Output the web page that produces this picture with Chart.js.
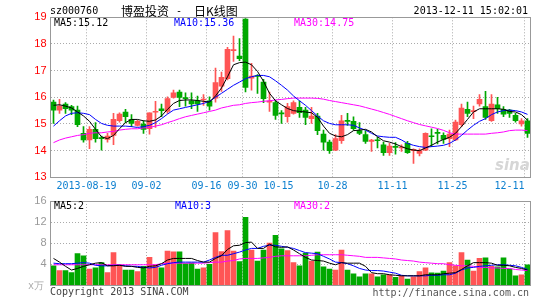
<!DOCTYPE html>
<html>
<head>
<meta charset="utf-8">
<title>博盈投资 日K线图</title>
<script src="https://cdn.jsdelivr.net/npm/chart.js@4.4.1/dist/chart.umd.min.js"></script>
<style>
  body { margin: 0; background: #fff; }
  #wrap { position: relative; width: 545px; height: 300px; overflow: hidden; background: #fff; }
  canvas { position: absolute; left: 0; }
  .txt { position: absolute; font: 10px/12px "DejaVu Sans Mono", monospace; white-space: pre; color: #000; }
  .cjk { font: 12px/14px "Noto Sans CJK SC", sans-serif; }
</style>
</head>
<body>
<div id="wrap">
  <canvas id="kChart" width="545" height="200" style="top:0"></canvas>
  <canvas id="volChart" width="545" height="110" style="top:190px"></canvas>
  <div class="txt" style="left:50px;top:5px">sz000760</div>
  <div class="txt cjk" style="left:121px;top:4px">博盈投资</div>
  <div class="txt" style="left:176px;top:5px">-</div>
  <div class="txt cjk" style="left:194px;top:4px">日K线图</div>
  <div class="txt" style="right:17px;top:5px">2013-12-11 15:02:01</div>
  <div class="txt" style="left:54px;top:17px">MA5:15.12</div>
  <div class="txt" style="left:174px;top:17px;color:#0000ff">MA10:15.36</div>
  <div class="txt" style="left:294px;top:17px;color:#ff00ff">MA30:14.75</div>
  <div class="txt" style="left:54px;top:200px">MA5:2</div>
  <div class="txt" style="left:175px;top:200px;color:#0000ff">MA10:3</div>
  <div class="txt" style="left:294px;top:200px;color:#ff00ff">MA30:2</div>
  <div class="txt" style="left:28px;top:280px;color:#aaa">x万</div>
  <div class="txt" style="left:50px;top:286px;color:#444">Copyright 2013 SINA.COM</div>
  <div class="txt" style="right:16px;top:287px;color:#555">http://finance.sina.com.cn</div>
  <div class="txt" style="left:495px;top:156px;font:italic bold 15px 'DejaVu Sans',sans-serif;color:#d6d6d6">sina</div>
</div>
<script>
// trading days shown on the chart
const dates = [
    '2013-08-09', '2013-08-12', '2013-08-13', '2013-08-14', '2013-08-15', '2013-08-16',
    '2013-08-19', '2013-08-20', '2013-08-21', '2013-08-22', '2013-08-23',
    '2013-08-26', '2013-08-27', '2013-08-28', '2013-08-29', '2013-08-30',
    '2013-09-02', '2013-09-03', '2013-09-04', '2013-09-05', '2013-09-06',
    '2013-09-09', '2013-09-10', '2013-09-11', '2013-09-12', '2013-09-13',
    '2013-09-16', '2013-09-17', '2013-09-18', '2013-09-23', '2013-09-24', '2013-09-25',
    '2013-09-30', '2013-10-08', '2013-10-09', '2013-10-10', '2013-10-11', '2013-10-14',
    '2013-10-15', '2013-10-16', '2013-10-17', '2013-10-18',
    '2013-10-21', '2013-10-22', '2013-10-23', '2013-10-24', '2013-10-25',
    '2013-10-28', '2013-10-29', '2013-10-30', '2013-10-31', '2013-11-01',
    '2013-11-04', '2013-11-05', '2013-11-06', '2013-11-07', '2013-11-08',
    '2013-11-11', '2013-11-12', '2013-11-13', '2013-11-14', '2013-11-15',
    '2013-11-18', '2013-11-19', '2013-11-20', '2013-11-21', '2013-11-22',
    '2013-11-25', '2013-11-26', '2013-11-27', '2013-11-28', '2013-11-29',
    '2013-12-02', '2013-12-03', '2013-12-04', '2013-12-05', '2013-12-06',
    '2013-12-09', '2013-12-10', '2013-12-11'
];

const tickDates = ['2013-08-19', '2013-09-02', '2013-09-16', '2013-09-30', '2013-10-15',
    '2013-10-28', '2013-11-11', '2013-11-25', '2013-12-11'];

const openPx = [
    15.82, 15.52, 15.75, 15.65, 15.52, 14.65, 14.40, 14.80, 14.47, 14.42,
    14.57, 15.12, 15.45, 15.17, 14.95, 15.00, 14.82, 15.44, 15.57, 15.47,
    16.00, 16.20, 15.97, 15.87, 15.87, 15.90, 15.87, 15.97, 16.42, 16.70,
    17.75, 17.55, 18.93, 16.72, 16.80, 16.57, 15.82, 15.80, 15.40, 15.27,
    15.40, 15.62, 15.52, 15.20, 15.30, 14.62, 14.32, 14.02, 14.37, 15.12,
    15.10, 14.75, 14.60, 14.35, 14.38, 14.22, 13.92, 14.13, 14.10, 14.27,
    14.00, 13.90, 14.02, 14.53, 14.66, 14.57, 14.45, 14.40, 14.97, 15.55,
    15.46, 15.75, 15.65, 15.12, 15.72, 15.55, 15.52, 15.32, 15.00, 15.12
];
const highPx = [
    15.90, 15.92, 15.80, 15.70, 15.67, 14.90, 14.90, 15.05, 14.55, 14.65,
    15.40, 15.42, 15.55, 15.35, 15.15, 15.12, 15.42, 15.85, 15.75, 16.02,
    16.27, 16.27, 16.17, 16.17, 16.05, 16.10, 16.02, 17.10, 16.95, 17.87,
    18.30, 18.20, 18.95, 17.27, 16.85, 16.67, 16.20, 15.90, 15.50, 15.77,
    15.87, 15.87, 15.62, 15.62, 15.40, 14.77, 14.40, 14.60, 15.32, 15.40,
    15.27, 15.05, 14.75, 14.42, 14.50, 14.32, 14.27, 14.30, 14.22, 14.35,
    14.07, 14.07, 14.67, 14.82, 14.80, 14.67, 14.77, 15.15, 15.75, 15.82,
    15.67, 16.10, 16.22, 16.10, 16.00, 15.65, 15.55, 15.40, 15.20, 15.20
];
const lowPx = [
    15.02, 15.40, 15.40, 15.35, 14.90, 14.32, 14.07, 14.32, 14.02, 14.32,
    14.22, 15.07, 15.05, 14.90, 14.92, 14.65, 14.62, 14.87, 15.27, 15.40,
    15.97, 15.65, 15.67, 15.57, 15.47, 15.70, 15.52, 15.82, 16.22, 16.65,
    17.35, 17.37, 16.20, 16.27, 16.15, 15.80, 15.47, 15.17, 15.02, 15.07,
    15.37, 15.25, 14.97, 15.02, 14.60, 14.02, 13.90, 14.00, 14.27, 14.95,
    14.77, 14.60, 14.27, 13.97, 14.10, 13.82, 13.82, 13.87, 13.97, 13.90,
    13.52, 13.80, 14.00, 14.15, 14.25, 14.27, 14.15, 14.37, 14.90, 15.27,
    15.20, 15.67, 15.17, 15.10, 15.40, 15.27, 15.25, 15.07, 14.92, 14.50
];
const closePx = [
    15.52, 15.67, 15.57, 15.52, 14.97, 14.40, 14.80, 14.45, 14.45, 14.55,
    15.17, 15.37, 15.27, 15.02, 15.10, 14.80, 15.42, 15.47, 15.50, 15.95,
    16.17, 16.00, 15.95, 15.75, 15.75, 15.92, 15.67, 16.55, 16.75, 17.80,
    17.77, 17.45, 16.37, 16.80, 16.78, 15.95, 15.85, 15.32, 15.38, 15.65,
    15.80, 15.42, 15.25, 15.30, 14.75, 14.32, 14.00, 14.45, 15.12, 15.10,
    14.82, 14.65, 14.35, 14.40, 14.37, 13.92, 14.17, 14.12, 14.12, 13.92,
    14.05, 14.00, 14.65, 14.52, 14.65, 14.42, 14.62, 15.07, 15.60, 15.40,
    15.47, 15.92, 15.25, 15.75, 15.57, 15.37, 15.40, 15.12, 15.12, 14.65
];

const ma5 = [
    15.70, 15.72, 15.67, 15.60, 15.45, 15.30, 15.10, 14.80, 14.52, 14.45,
    14.57, 14.82, 15.05, 15.17, 15.17, 15.12, 15.10, 15.15, 15.30, 15.55,
    15.77, 15.88, 15.90, 15.90, 15.88, 15.85, 15.82, 16.05, 16.35, 16.77,
    17.22, 17.30, 17.32, 17.22, 16.97, 16.60, 16.15, 15.87, 15.72, 15.58,
    15.50, 15.47, 15.45, 15.42, 15.25, 14.92, 14.65, 14.55, 14.52, 14.60,
    14.75, 14.77, 14.80, 14.70, 14.52, 14.37, 14.32, 14.25, 14.15, 14.07,
    14.02, 14.00, 14.10, 14.20, 14.32, 14.42, 14.50, 14.65, 14.90, 15.17,
    15.45, 15.57, 15.57, 15.57, 15.57, 15.55, 15.47, 15.45, 15.35, 15.14
];
const ma10 = [
    14.92, 15.12, 15.30, 15.40, 15.42, 15.40, 15.35, 15.17, 15.02, 14.95,
    14.92, 14.92, 14.92, 14.90, 14.87, 14.90, 14.95, 15.05, 15.20, 15.37,
    15.52, 15.57, 15.62, 15.67, 15.72, 15.77, 15.85, 16.00, 16.15, 16.30,
    16.45, 16.57, 16.70, 16.77, 16.82, 16.82, 16.77, 16.62, 16.45, 16.27,
    16.05, 15.87, 15.70, 15.50, 15.30, 15.12, 15.02, 14.97, 14.97, 14.97,
    14.95, 14.85, 14.77, 14.65, 14.55, 14.52, 14.50, 14.50, 14.40, 14.27,
    14.20, 14.15, 14.12, 14.15, 14.17, 14.20, 14.27, 14.40, 14.57, 14.77,
    14.95, 15.10, 15.20, 15.35, 15.45, 15.50, 15.52, 15.50, 15.45, 15.36
];
const ma30 = [
    14.30, 14.40, 14.47, 14.52, 14.57, 14.60, 14.65, 14.67, 14.67, 14.70,
    14.72, 14.77, 14.80, 14.82, 14.82, 14.85, 14.87, 14.92, 14.97, 15.05,
    15.12, 15.20, 15.27, 15.32, 15.37, 15.42, 15.47, 15.52, 15.60, 15.65,
    15.70, 15.72, 15.77, 15.80, 15.82, 15.85, 15.87, 15.90, 15.92, 15.95,
    15.97, 15.97, 15.97, 15.97, 15.96, 15.93, 15.88, 15.84, 15.80, 15.76,
    15.72, 15.68, 15.62, 15.56, 15.50, 15.43, 15.36, 15.28, 15.20, 15.12,
    15.05, 14.98, 14.93, 14.88, 14.83, 14.76, 14.67, 14.62, 14.62, 14.62,
    14.62, 14.62, 14.62, 14.65, 14.67, 14.70, 14.75, 14.77, 14.77, 14.75
];

// volume, in units of 10k shares
const volume = [
    3.7, 2.8, 2.8, 2.4, 6.0, 5.6, 3.1, 3.3, 4.3, 2.4,
    6.2, 3.9, 2.9, 2.9, 2.6, 3.6, 5.3, 3.9, 3.3, 6.5,
    6.35, 6.35, 4.1, 4.2, 3.1, 3.3, 4.0, 10.0, 6.4, 10.4,
    6.5, 4.5, 12.9, 6.7, 4.6, 6.7, 8.0, 9.5, 6.9, 6.6,
    4.3, 3.7, 6.1, 4.6, 6.3, 3.5, 3.1, 2.9, 6.7, 2.9,
    2.2, 1.6, 2.2, 2.2, 1.6, 2.0, 2.0, 1.5, 1.8, 1.2,
    1.6, 2.6, 3.3, 2.35, 2.3, 2.7, 4.3, 3.7, 6.2, 4.8,
    2.7, 5.1, 5.2, 3.6, 3.5, 5.2, 3.1, 1.8, 2.0, 3.9
];
const volMa5 = [
    5.1, 4.4, 3.6, 2.9, 3.2, 3.6, 3.9, 4.2, 4.3, 3.7,
    3.7, 3.8, 3.6, 3.6, 3.4, 3.3, 3.6, 3.7, 4.1, 4.8,
    5.1, 5.1, 5.1, 5.1, 4.7, 4.4, 4.4, 5.1, 5.6, 6.8,
    7.5, 7.6, 8.1, 8.2, 7.0, 7.0, 7.8, 7.3, 7.2, 7.3,
    6.7, 6.0, 5.3, 4.8, 4.7, 4.6, 4.2, 3.9, 4.3, 4.2,
    4.2, 4.2, 3.6, 2.4, 2.2, 2.2, 2.0, 1.9, 1.8, 1.8,
    1.8, 1.8, 2.0, 2.0, 2.0, 2.2, 2.3, 2.4, 3.0, 3.7,
    4.3, 4.3, 4.3, 4.2, 3.8, 3.8, 3.7, 3.4, 3.2, 2.9
];
const volMa10 = [
    4.2, 4.1, 4.1, 4.1, 4.2, 4.3, 4.2, 3.8, 3.7, 3.7,
    3.8, 3.8, 3.7, 3.6, 3.6, 3.4, 3.3, 3.4, 3.8, 4.1,
    4.3, 4.4, 4.4, 4.4, 4.4, 4.4, 4.8, 5.3, 5.7, 5.7,
    6.0, 6.3, 6.7, 7.0, 7.0, 7.4, 7.6, 7.6, 7.4, 7.2,
    7.0, 6.6, 6.2, 6.1, 6.0, 5.5, 5.0, 4.4, 4.3, 4.1,
    3.7, 3.2, 2.9, 2.8, 2.8, 2.7, 2.5, 2.3, 1.9, 1.8,
    1.8, 1.8, 1.8, 1.9, 1.9, 2.0, 2.0, 2.3, 2.9, 3.3,
    3.4, 3.6, 3.7, 3.8, 3.9, 3.9, 3.8, 3.7, 3.4, 3.0
];
const volMa30 = [
    3.9, 3.9, 3.9, 3.9, 3.9, 3.9, 3.9, 3.9, 3.9, 3.9,
    3.9, 3.9, 3.9, 3.9, 3.9, 3.9, 3.9, 3.9, 4.1, 4.2,
    4.2, 4.2, 4.2, 4.2, 4.2, 4.2, 4.3, 4.4, 4.4, 4.6,
    4.7, 5.0, 5.1, 5.1, 5.1, 5.2, 5.3, 5.5, 5.6, 5.6,
    5.6, 5.6, 5.6, 5.7, 5.8, 5.8, 5.8, 5.8, 5.8, 5.7,
    5.6, 5.5, 5.3, 5.3, 5.3, 5.2, 5.1, 5.0, 4.8, 4.7,
    4.6, 4.4, 4.3, 4.2, 4.1, 4.1, 3.9, 3.8, 3.7, 3.7,
    3.6, 3.4, 3.4, 3.3, 3.3, 3.2, 3.2, 3.0, 2.9, 2.8
];

const UP = '#ff5555';
const DOWN = '#00a800';
const GRID = '#aaaaaa';
const FRAME = '#999999';

const candleColors = closePx.map((c, i) => c >= openPx[i] ? UP : DOWN);
const tickIdx = tickDates.map(d => dates.indexOf(d));

// solid frame around the plot area
const framePlugin = {
    id: 'frame',
    afterDraw(chart) {
        const { ctx, chartArea: a } = chart;
        ctx.save();
        ctx.strokeStyle = FRAME;
        ctx.lineWidth = 1;
        const l = Math.floor(a.left) + 0.5, t = Math.round(a.top) + 0.5;
        const r = Math.floor(a.right) + 0.5, b = Math.round(a.bottom) + 0.5;
        ctx.strokeRect(l, t, r - l, b - t);
        ctx.restore();
    }
};

function xScale(showLabels, height) {
    return {
        type: 'category',
        offset: true,
        grid: {
            offset: true,
            drawTicks: false,
            color: ctx => tickIdx.includes(ctx.index) ? GRID : 'transparent'
        },
        border: { display: true, color: FRAME, dash: [1, 2] },
        ticks: {
            display: showLabels,
            autoSkip: false,
            maxRotation: 0,
            padding: 3,
            labelOffset: -3,
            color: '#0c7fcf',
            font: { family: 'DejaVu Sans Mono', size: 10 },
            callback: function(value, index) {
                const pos = tickIdx.indexOf(index);
                if (pos < 0) return '';
                if (pos === 0) return dates[index];
                // last label sits inside the frame
                if (pos === tickIdx.length - 1) return dates[index].slice(5) + '     ';
                return dates[index].slice(5);
            }
        },
        afterFit(scale) {
            scale.height = height;
            scale.paddingLeft = 0;
            scale.paddingRight = 0;
        }
    };
}

function yScale(min, max, step, color, labelFn) {
    return {
        min: min,
        max: max,
        grid: { color: GRID, drawTicks: false },
        border: { display: true, color: FRAME, dash: [1, 2] },
        ticks: {
            stepSize: step,
            padding: 4,
            color: color,
            font: { family: 'Liberation Sans', size: 11 },
            callback: labelFn
        },
        afterFit(scale) {
            scale.width = 50.5;
            scale.paddingTop = 0;
            scale.paddingBottom = 0;
        }
    };
}

function maLine(data, color) {
    return {
        type: 'line',
        data: data,
        borderColor: color,
        borderWidth: 1,
        pointRadius: 0,
        tension: 0,
        order: 0
    };
}

const commonOptions = {
    responsive: false,
    animation: false,
    events: [],
    plugins: { legend: { display: false }, tooltip: { enabled: false } }
};

new Chart(document.getElementById('kChart'), {
    type: 'bar',
    data: {
        labels: dates,
        datasets: [
            maLine(ma5, '#000000'),
            maLine(ma10, '#0000ff'),
            maLine(ma30, '#ff00ff'),
            {
                // candle bodies
                data: openPx.map((o, i) => [o, closePx[i]]),
                backgroundColor: candleColors,
                barThickness: 5,
                minBarLength: 1,
                grouped: false,
                order: 1
            },
            {
                // high-low wicks
                data: lowPx.map((l, i) => [l, highPx[i]]),
                backgroundColor: candleColors,
                barThickness: 1,
                grouped: false,
                order: 2
            }
        ]
    },
    options: {
        ...commonOptions,
        layout: { padding: { left: 0, right: 14.5, top: 17.3, bottom: 0 } },
        scales: {
            x: xScale(true, 22.7),
            y: yScale(13, 19, 1, '#ff0000', v => v)
        }
    },
    plugins: [framePlugin]
});

new Chart(document.getElementById('volChart'), {
    type: 'bar',
    data: {
        labels: dates,
        datasets: [
            maLine(volMa5, '#000000'),
            maLine(volMa10, '#0000ff'),
            maLine(volMa30, '#ff00ff'),
            {
                data: volume,
                backgroundColor: candleColors,
                barThickness: 5,
                grouped: false,
                order: 1
            }
        ]
    },
    options: {
        ...commonOptions,
        layout: { padding: { left: 0, right: 14.5, top: 11, bottom: 0 } },
        scales: {
            x: xScale(false, 14.7),
            y: yScale(0, 16, 4, '#999999', v => v === 0 ? '' : v)
        }
    },
    plugins: [framePlugin]
});
</script>
</body>
</html>
